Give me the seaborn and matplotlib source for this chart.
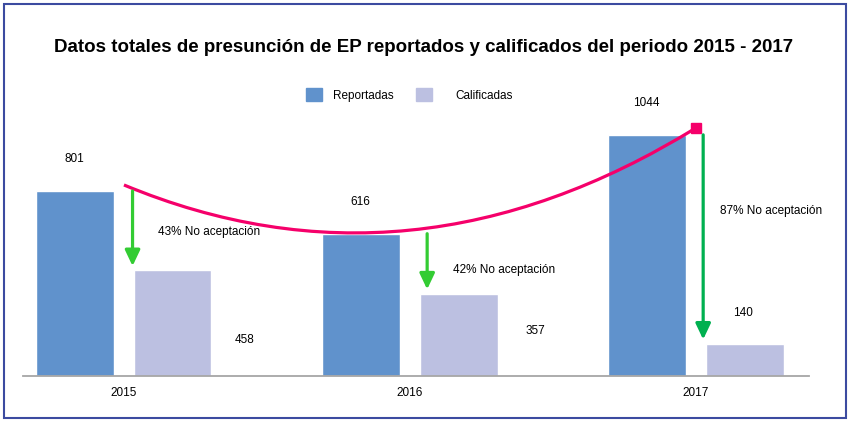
import numpy as np
import pandas as pd
import seaborn as sns
import matplotlib.pyplot as plt
from matplotlib.path import Path
from matplotlib.patches import PathPatch, Rectangle, Patch

# datos
years = ["2015", "2016", "2017"]
reportadas = [801, 616, 1044]
calificadas = [458, 357, 140]
no_aceptacion = ["43%", "42%", "87%"]
series_names = ["Reportadas", "Calificadas"]

colors = ["#6092cc", "#bcc0e1"]
arrow_colors = ["#33cc33", "#33cc33", "#00b050"]
pink = "#f5006a"

sns.set_style("white")
plt.rcParams["font.family"] = ["Liberation Sans", "DejaVu Sans"]
plt.rcParams["text.color"] = "black"
plt.rcParams["xtick.color"] = "black"

df = pd.DataFrame({
    "year": years * 2,
    "serie": [series_names[0]] * 3 + [series_names[1]] * 3,
    "valor": reportadas + calificadas,
})

px = 1 / 100
fig = plt.figure(figsize=(848 * px, 421 * px), dpi=100)
ax = fig.add_axes([23 / 848, 45 / 421, 786 / 848, 277.2 / 421])

sns.barplot(data=df, x="year", y="valor", hue="serie", palette=colors,
            saturation=1, width=0.68, gap=0.2, errorbar=None, ax=ax,
            legend=False)
ax.set_xlim(-0.353, 2.395)
ax.set_ylim(0, 1200)

for s in ["left", "top", "right"]:
    ax.spines[s].set_visible(False)
ax.spines["bottom"].set_color("#a6a6a6")
ax.spines["bottom"].set_linewidth(1.3)
ax.set_yticks([])
ax.set_xlabel("")
ax.set_ylabel("")
ax.tick_params(axis="x", length=0, pad=8, labelsize=8.5)

# etiquetas de valor
rep_bars, cal_bars = ax.containers[0], ax.containers[1]
for bar, v in zip(rep_bars, reportadas):
    ax.annotate(str(v), (bar.get_x() + bar.get_width() / 2, v),
                xytext=(-1, 23), textcoords="offset points",
                ha="center", va="center", fontsize=8.5)

cal_offsets = [(52, -50), (55, -27), (-1, 22)]
for bar, v, off in zip(cal_bars, calificadas, cal_offsets):
    ax.annotate(str(v), (bar.get_x() + bar.get_width() / 2, v),
                xytext=off, textcoords="offset points",
                ha="center", va="center", fontsize=8.5)

# flechas de no aceptación
arrow_dx = [0.03, 0.06, 0.025]
pct_pos = [(0.119, 623), (0.150, 459), (0.084, 714)]
for i in range(len(years)):
    ax.annotate("", xy=(i + arrow_dx[i], calificadas[i]),
                xytext=(i + arrow_dx[i], reportadas[i]),
                arrowprops=dict(arrowstyle="-|>,head_width=0.45,head_length=0.95",
                                lw=2.3, color=arrow_colors[i],
                                shrinkA=0, shrinkB=3))
    ax.text(i + pct_pos[i][0], pct_pos[i][1], no_aceptacion[i] + " No aceptación",
            ha="left", va="center", fontsize=8.5)

# curva rosa
verts = [(0, 827), (1, 312), (2, 1074)]
curve = PathPatch(Path(verts, [Path.MOVETO, Path.CURVE3, Path.CURVE3]),
                  fill=False, edgecolor=pink, lw=2.3, clip_on=False)
ax.add_patch(curve)
ax.plot([2], [1074], marker="s", markersize=6.5, color=pink, clip_on=False)

# titulo
fig.text(0.5, 1 - 48 / 421,
         "Datos totales de presunción de EP reportados y calificados del periodo 2015 - 2017",
         ha="center", va="center", fontsize=13.5, fontweight="bold")

# leyenda
leg_x = [306 / 848, 416 / 848]
leg_pad = [0.93, 2.0]
for k in range(2):
    lg = fig.legend(handles=[Patch(color=colors[k], label=series_names[k])],
                    loc="center left", bbox_to_anchor=(leg_x[k], 1 - 95 / 421),
                    frameon=False, fontsize=8.5, borderpad=0, borderaxespad=0,
                    handlelength=1.36, handleheight=1.35, handletextpad=leg_pad[k])

# borde
fig.patches.append(Rectangle((4 / 848, 3 / 421), 842 / 848, 414 / 421,
                             transform=fig.transFigure, fill=False,
                             edgecolor="#3c4ba0", lw=1.5))

fig.savefig("out.png", dpi=100)
